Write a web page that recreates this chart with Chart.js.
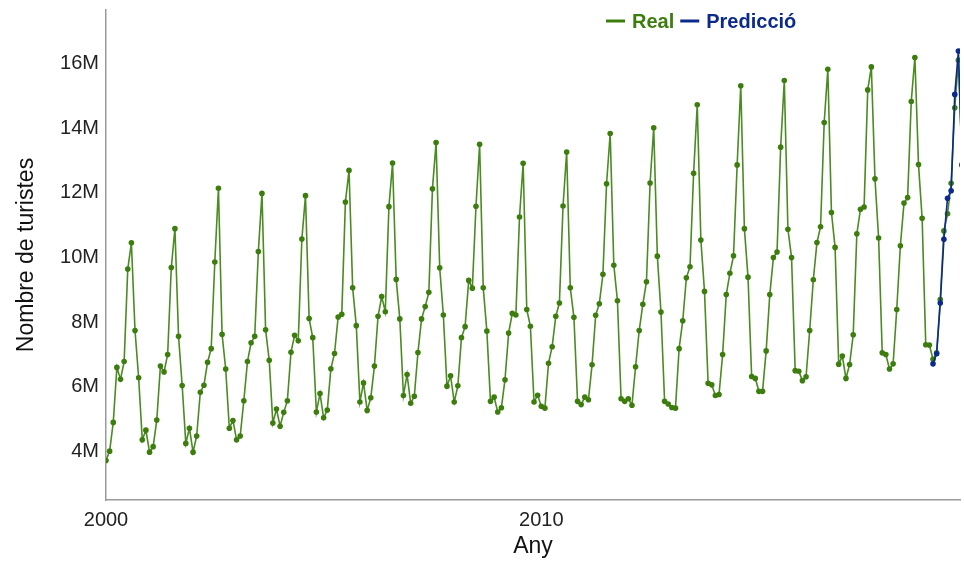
<!DOCTYPE html>
<html><head><meta charset="utf-8">
<script src="https://cdn.jsdelivr.net/npm/chart.js@4.4.1/dist/chart.umd.min.js"></script>
<style>html,body{margin:0;padding:0;background:#fff}#wrap{width:964px;height:561px}</style>
</head><body><div id="wrap"><canvas id="c" width="964" height="561"></canvas></div>
<script>
// ---- data (millions of tourists, monthly from Jan 2000) ----
const startYear = 2000;
const realValues = [
  3.72, 4.01, 4.90, 6.60, 6.23, 6.78, 9.64, 10.45, 7.74, 6.28, 4.36, 4.66,   // 2000
  3.98, 4.15, 4.97, 6.64, 6.46, 7.00, 9.69, 10.89, 7.56, 6.04, 4.25, 4.72,   // 2001
  3.98, 4.48, 5.83, 6.05, 6.76, 7.18, 9.86, 12.14, 7.62, 6.55, 4.72, 4.96,   // 2002
  4.36, 4.48, 5.57, 6.78, 7.36, 7.56, 10.18, 11.98, 7.76, 6.82, 4.88, 5.31,  // 2003
  4.78, 5.21, 5.57, 7.07, 7.59, 7.42, 10.57, 11.91, 8.11, 7.52, 5.22, 5.79,  // 2004
  5.04, 5.28, 6.56, 7.03, 8.16, 8.24, 11.71, 12.69, 9.06, 7.89, 5.53, 6.12,  // 2005
  5.27, 5.66, 6.64, 8.18, 8.79, 8.32, 11.57, 12.92, 9.32, 8.10, 5.73, 6.38,  // 2006
  5.49, 5.71, 7.06, 8.10, 8.48, 8.92, 12.12, 13.55, 9.68, 8.22, 6.02, 6.34,  // 2007
  5.53, 6.03, 7.52, 7.86, 9.29, 9.05, 11.58, 13.50, 9.06, 7.72, 5.55, 5.68,  // 2008
  5.22, 5.35, 6.22, 7.66, 8.27, 8.22, 11.25, 12.91, 8.39, 7.87, 5.53, 5.74,  // 2009
  5.40, 5.34, 6.73, 7.24, 8.18, 8.59, 11.59, 13.26, 9.06, 8.15, 5.55, 5.45,  // 2010
  5.68, 5.60, 6.68, 8.21, 8.57, 9.48, 12.28, 13.83, 9.76, 8.66, 5.63, 5.55,  // 2011
  5.63, 5.43, 6.62, 7.74, 8.55, 9.25, 12.30, 14.01, 10.04, 8.31, 5.55, 5.47, // 2012
  5.36, 5.34, 7.18, 8.04, 9.37, 9.71, 12.60, 14.72, 10.54, 8.95, 6.11, 6.06, // 2013
  5.73, 5.76, 7.00, 8.85, 9.51, 10.05, 12.86, 15.31, 10.89, 9.39, 6.32, 6.26,// 2014
  5.86, 5.86, 7.11, 8.85, 10.00, 10.17, 13.41, 15.47, 10.87, 10.00, 6.50, 6.48, // 2015
  6.19, 6.31, 7.74, 9.31, 10.46, 10.95, 14.17, 15.82, 11.39, 10.31, 6.70, 6.95, // 2016
  6.26, 6.69, 7.61, 10.73, 11.49, 11.56, 15.18, 15.89, 12.43, 10.60, 7.05, 7.00, // 2017
  6.55, 6.71, 8.39, 10.36, 11.68, 11.85, 14.82, 16.18, 12.87, 11.21, 7.30, 7.29, // 2018
  6.85, 7.05, 8.70, 10.82, 11.35, 12.29, 14.63, 16.10, 12.88                     // 2019
];
const predStartMonth = 228; // Jan 2019 (months since Jan 2000)
const predValues = [6.71, 7.02, 8.59, 10.56, 11.83, 12.06, 15.04, 16.38, 12.85];
const xTickValues = [2000, 2010];
const yTickValues = [4, 6, 8, 10, 12, 14, 16];
const seriesNames = ['Real', 'Predicció'];

const monthToYear = i => startYear + i / 12;
const realPoints = realValues.map((v, i) => ({x: monthToYear(i), y: v}));
const predPoints = predValues.map((v, i) => ({x: monthToYear(predStartMonth + i), y: v}));

const GREEN = '#3c7d0e';
const GREEN_LINE = '#4a8b22';
const BLUE = '#0c2a8c';
const FONT = "'Liberation Sans', Arial, Helvetica, sans-serif";

const legendPlugin = {
  id: 'customLegend',
  afterDraw(chart) {
    const ctx = chart.ctx;
    const ca = chart.chartArea;
    ctx.save();
    ctx.font = 'bold 20px ' + FONT;
    ctx.textBaseline = 'middle';
    let x = ca.left + 500;
    const y = ca.top + 11;
    const colors = [GREEN, BLUE];
    seriesNames.forEach((name, k) => {
      ctx.strokeStyle = colors[k];
      ctx.lineWidth = 3;
      ctx.beginPath(); ctx.moveTo(x, y); ctx.lineTo(x + 19, y); ctx.stroke();
      x += 26;
      ctx.fillStyle = colors[k];
      ctx.fillText(name, x, y + 1);
      x += ctx.measureText(name).width + 6;
    });
    ctx.restore();
  }
};

new Chart(document.getElementById('c'), {
  type: 'line',
  data: {
    datasets: [
      {label: seriesNames[1], data: predPoints, borderColor: BLUE, backgroundColor: BLUE,
       borderWidth: 1.6, pointRadius: 2.8, pointBorderWidth: 0, tension: 0, order: 0},
      {label: seriesNames[0], data: realPoints, borderColor: GREEN_LINE, backgroundColor: GREEN,
       borderWidth: 1.6, pointRadius: 2.8, pointBorderWidth: 0, tension: 0, order: 1}
    ]
  },
  options: {
    responsive: false,
    animation: false,
    devicePixelRatio: 1,
    layout: {padding: {top: 10, right: 0, bottom: 0, left: 0}},
    plugins: {legend: {display: false}, tooltip: {enabled: false}},
    scales: {
      x: {
        type: 'linear', min: 2000, max: 2019.62,
        afterBuildTicks: s => { s.ticks = xTickValues.map(v => ({value: v})); },
        afterFit: s => { s.height = 61; s.paddingLeft = 0; s.paddingRight = 0; },
        ticks: {font: {family: FONT, size: 20}, color: '#222', padding: 8, maxRotation: 0,
                autoSkip: false, callback: v => String(v)},
        grid: {display: false, drawTicks: false},
        border: {display: true, color: '#9a9a9a', width: 1.5},
        title: {display: true, text: 'Any', font: {family: FONT, size: 23}, color: '#111',
                padding: {top: 0, bottom: 1}}
      },
      y: {
        type: 'linear', min: 2.5, max: 17.65,
        afterBuildTicks: s => { s.ticks = yTickValues.map(v => ({value: v})); },
        afterFit: s => { s.width = 106; s.paddingTop = 0; s.paddingBottom = 0; },
        ticks: {font: {family: FONT, size: 20}, color: '#222', padding: 7,
                callback: v => v + 'M'},
        grid: {display: false, drawTicks: false},
        border: {display: true, color: '#9a9a9a', width: 1.5},
        title: {display: true, text: 'Nombre de turistes', font: {family: FONT, size: 23},
                color: '#111', padding: {top: 13, bottom: 0}}
      }
    }
  },
  plugins: [legendPlugin]
});
</script>
</body></html>
